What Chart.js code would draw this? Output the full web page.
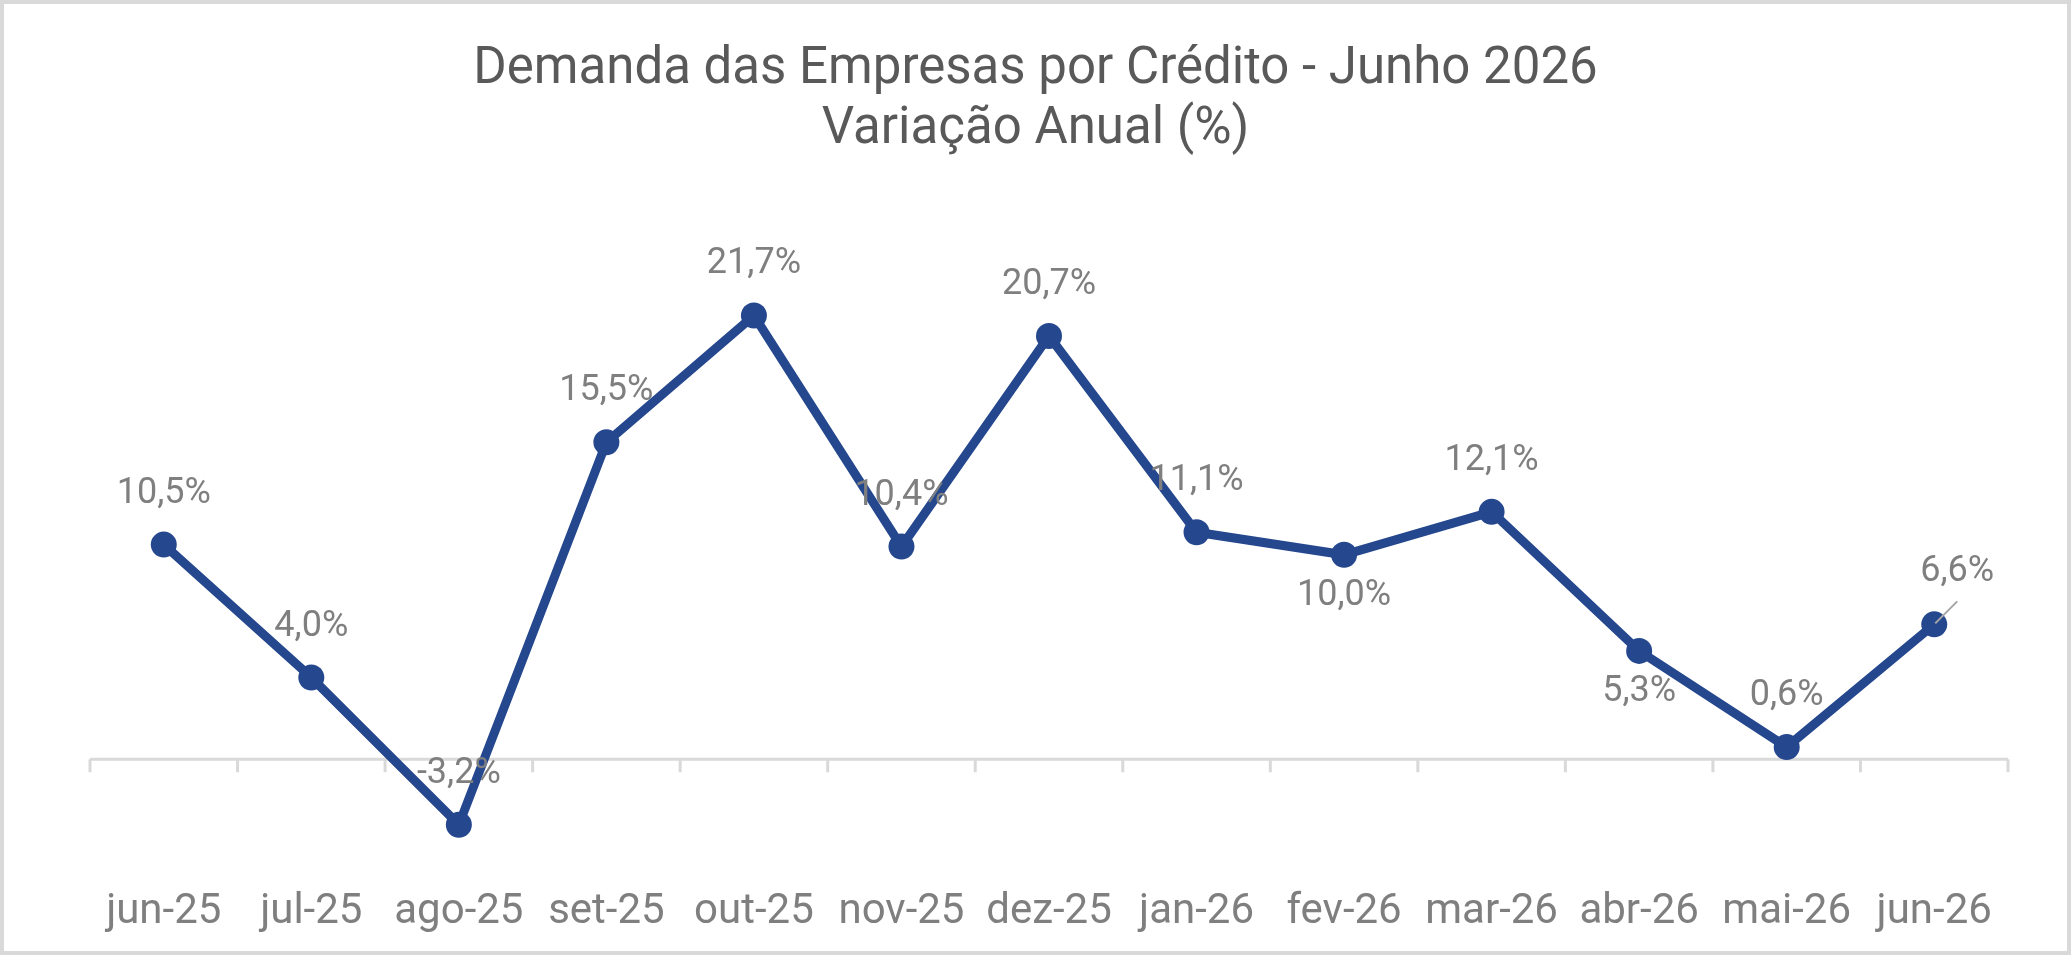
<!DOCTYPE html>
<html>
<head>
<meta charset="utf-8">
<script src="https://cdn.jsdelivr.net/npm/chart.js@4.4.1/dist/chart.umd.min.js"></script>
<style>
    html, body { margin: 0; padding: 0; background: #fff; }
    #wrap { width: 2071px; height: 955px; }
</style>
</head>
<body>
<div id="wrap"><canvas id="demandaChart" width="2071" height="955"></canvas></div>
<script>
const months = ['jun-25', 'jul-25', 'ago-25', 'set-25', 'out-25', 'nov-25', 'dez-25',
    'jan-26', 'fev-26', 'mar-26', 'abr-26', 'mai-26', 'jun-26'];
const variacao = [10.5, 4.0, -3.2, 15.5, 21.7, 10.4, 20.7, 11.1, 10.0, 12.1, 5.3, 0.6, 6.6];
const titleLines = ['Demanda das Empresas por Crédito - Junho 2026', 'Variação Anual (%)'];

// where each value label sits relative to its point
const labelPlacement = ['above', 'above', 'above', 'above', 'above', 'above', 'above',
    'above', 'below', 'above', 'below', 'above', 'leader'];

const lineColor = '#25478e';
const gray = '#7f7f7f';
const axisGray = '#d9d9d9';

// white background, frame, and the title centred on the whole picture
const framePlugin = {
    id: 'frame',
    beforeDraw(chart) {
        const c = chart.ctx;
        c.save();
        c.fillStyle = '#fff';
        c.fillRect(0, 0, chart.width, chart.height);
        c.strokeStyle = axisGray;
        c.lineWidth = 4;
        c.strokeRect(2, 2, chart.width - 4, chart.height - 4);

        c.font = '51px Roboto';
        c.fillStyle = '#595959';
        c.textAlign = 'center';
        c.textBaseline = 'middle';
        titleLines.forEach((line, i) => {
            c.fillText(line, chart.width / 2, 70 + i * 60);
        });
        c.restore();
    }
};

// horizontal axis crossing at zero with tick marks between categories
const zeroAxisPlugin = {
    id: 'zeroAxis',
    beforeDatasetsDraw(chart) {
        const x = chart.scales.x;
        const y0 = chart.scales.y.getPixelForValue(0);
        const c = chart.ctx;
        const half = (x.getPixelForValue(1) - x.getPixelForValue(0)) / 2;
        c.save();
        c.strokeStyle = axisGray;
        c.lineWidth = 3;
        c.beginPath();
        c.moveTo(chart.chartArea.left, y0);
        c.lineTo(chart.chartArea.right, y0);
        for (let i = 0; i <= months.length; i++) {
            const px = x.getPixelForValue(0) - half + i * half * 2;
            c.moveTo(px, y0);
            c.lineTo(px, y0 + 13);
        }
        c.stroke();
        c.restore();
    }
};

const valueLabelPlugin = {
    id: 'valueLabels',
    afterDatasetsDraw(chart) {
        const meta = chart.getDatasetMeta(0);
        const c = chart.ctx;
        c.save();
        c.font = '36px Roboto';
        c.fillStyle = gray;
        c.textAlign = 'center';
        c.textBaseline = 'middle';
        meta.data.forEach((pt, i) => {
            const text = variacao[i].toFixed(1).replace('.', ',') + '%';
            let lx = pt.x, ly = pt.y - 51;
            if (labelPlacement[i] === 'below') {
                ly = pt.y + 41;
            } else if (labelPlacement[i] === 'leader') {
                lx = pt.x + 23;
                ly = pt.y - 52;
                c.strokeStyle = '#a6a6a6';
                c.lineWidth = 2;
                c.beginPath();
                c.moveTo(pt.x + 1, pt.y - 1);
                c.lineTo(pt.x + 23, pt.y - 23);
                c.stroke();
            }
            c.fillText(text, lx, ly);
        });
        c.restore();
    }
};

new Chart(document.getElementById('demandaChart').getContext('2d'), {
    type: 'line',
    data: {
        labels: months,
        datasets: [{
            label: 'Variação Anual (%)',
            data: variacao,
            borderColor: lineColor,
            backgroundColor: lineColor,
            borderWidth: 9,
            pointRadius: 13,
            pointBackgroundColor: lineColor,
            pointBorderWidth: 0,
            tension: 0
        }]
    },
    options: {
        responsive: false,
        animation: false,
        devicePixelRatio: 1,
        layout: {
            padding: { left: 90, right: 63, top: 248, bottom: -1 }
        },
        plugins: {
            legend: { display: false },
            tooltip: { enabled: false },
            title: { display: false }
        },
        scales: {
            x: {
                offset: true,
                grid: { display: false },
                border: { display: false },
                ticks: {
                    color: gray,
                    padding: 18,
                    maxRotation: 0,
                    font: { family: 'Roboto', size: 42 }
                }
            },
            y: {
                display: false,
                min: -5,
                max: 25
            }
        }
    },
    plugins: [framePlugin, zeroAxisPlugin, valueLabelPlugin]
});
</script>
</body>
</html>
